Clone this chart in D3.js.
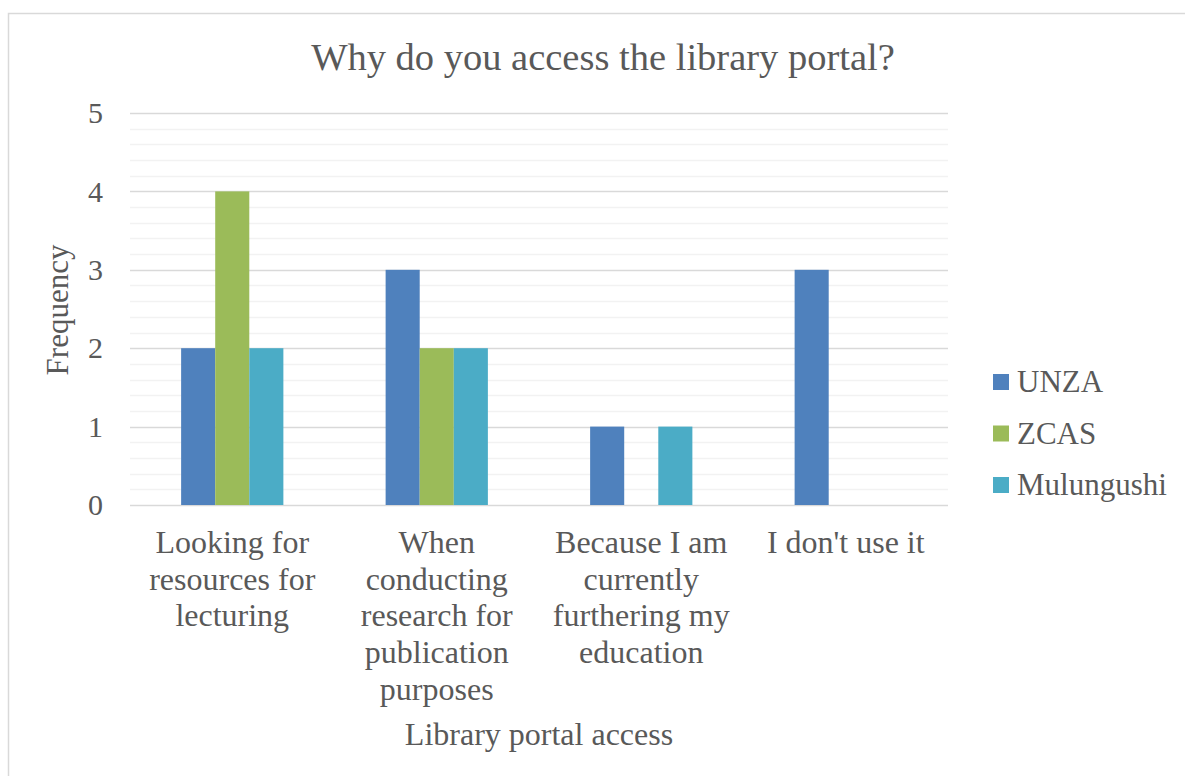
<!DOCTYPE html>
<html>
<head>
<meta charset="utf-8">
<script src="https://cdn.jsdelivr.net/npm/d3@7"></script>
<style>
  body { margin: 0; background: #fff; }
</style>
</head>
<body>
<div id="chart"></div>
<script>
var categories = [
    ["Looking for", "resources for", "lecturing"],
    ["When", "conducting", "research for", "publication", "purposes"],
    ["Because I am", "currently", "furthering my", "education"],
    ["I don't use it"]
];
var seriesNames = ["UNZA", "ZCAS", "Mulungushi"];
var unzaValues = [2, 3, 1, 3];
var zcasValues = [4, 2, 0, 0];
var mulungushiValues = [2, 2, 1, 0];
var yTicks = [0, 1, 2, 3, 4, 5];
var colors = ["#4f81bd", "#9bbb59", "#4bacc6"];

var FONT = "'Liberation Serif', Tinos, 'Times New Roman', Times, 'DejaVu Serif', serif";
var TEXT = "#595959";

var W = 1185, H = 776;
var svg = d3.select("#chart").append("svg").attr("width", W).attr("height", H)
    .attr("font-family", FONT);

svg.append("rect")
    .attr("x", 8.5).attr("y", 13.5)
    .attr("width", W + 10).attr("height", H + 10)
    .attr("fill", "none").attr("stroke", "#d9d9d9").attr("stroke-width", 1.5);

var plot = {left: 130, right: 948, top: 113, bottom: 505};

var x0 = d3.scaleBand()
    .domain(d3.range(categories.length))
    .range([plot.left, plot.right]);

var x1 = d3.scaleBand()
    .domain(seriesNames)
    .range([0, x0.bandwidth() / 2]);

var y = d3.scaleLinear().domain([0, 5]).range([plot.bottom, plot.top]);

// minor gridlines
var minor = d3.range(0, 5.001, 0.2).filter(function(v) { return Math.abs(v - Math.round(v)) > 0.01; });
svg.append("g").selectAll("line").data(minor).enter().append("line")
    .attr("x1", plot.left).attr("x2", plot.right)
    .attr("y1", function(d) { return Math.round(y(d)) + 0.5; })
    .attr("y2", function(d) { return Math.round(y(d)) + 0.5; })
    .attr("stroke", "#f2f2f2").attr("stroke-width", 1.5);

// major gridlines
svg.append("g").selectAll("line").data(yTicks).enter().append("line")
    .attr("x1", plot.left).attr("x2", plot.right)
    .attr("y1", function(d) { return Math.round(y(d)) + 0.5; })
    .attr("y2", function(d) { return Math.round(y(d)) + 0.5; })
    .attr("stroke", "#d9d9d9").attr("stroke-width", 1.5);

var yAxis = svg.append("g")
    .attr("transform", "translate(" + plot.left + ",0)")
    .call(d3.axisLeft(y).tickValues(yTicks).tickSize(0).tickPadding(27).tickFormat(d3.format("d")));
yAxis.attr("font-family", FONT).attr("font-size", 30);
yAxis.select(".domain").remove();
yAxis.selectAll("text").attr("fill", TEXT);

var data = categories.map(function(c, i) {
    return [unzaValues[i], zcasValues[i], mulungushiValues[i]];
});

var groups = svg.selectAll(".grp").data(data).enter().append("g")
    .attr("transform", function(d, i) { return "translate(" + (x0(i) + x0.bandwidth() / 4) + ",0)"; });

groups.selectAll("rect")
    .data(function(d) { return d.map(function(v, j) { return {name: seriesNames[j], value: v, j: j}; }); })
    .enter().append("rect")
    .attr("x", function(d) { return x1(d.name); })
    .attr("width", x1.bandwidth())
    .attr("y", function(d) { return y(d.value); })
    .attr("height", function(d) { return y(0) - y(d.value); })
    .attr("fill", function(d) { return colors[d.j]; });

// category labels
var catLabels = svg.selectAll(".cat").data(categories).enter().append("text")
    .attr("text-anchor", "middle")
    .attr("fill", TEXT)
    .attr("font-size", 32);
catLabels.each(function(lines, i) {
    var t = d3.select(this);
    lines.forEach(function(line, k) {
        t.append("tspan")
            .attr("x", x0(i) + x0.bandwidth() / 2)
            .attr("y", 553 + k * 36.7)
            .text(line);
    });
});

svg.append("text")
    .attr("x", 603).attr("y", 70)
    .attr("text-anchor", "middle")
    .attr("fill", TEXT)
    .attr("font-size", 38.5)
    .text("Why do you access the library portal?");

svg.append("text")
    .attr("x", 539).attr("y", 745)
    .attr("text-anchor", "middle")
    .attr("fill", TEXT)
    .attr("font-size", 32)
    .text("Library portal access");

svg.append("text")
    .attr("transform", "translate(68,310) rotate(-90)")
    .attr("text-anchor", "middle")
    .attr("fill", TEXT)
    .attr("font-size", 31)
    .text("Frequency");

var legend = svg.append("g").attr("transform", "translate(993,382)");
seriesNames.forEach(function(n, i) {
    var g = legend.append("g").attr("transform", "translate(0," + (i * 51.5) + ")");
    g.append("rect").attr("x", 0).attr("y", -8).attr("width", 16).attr("height", 16).attr("fill", colors[i]);
    g.append("text").attr("x", 24).attr("y", 10).attr("fill", TEXT).attr("font-size", 31).text(n);
});
</script>
</body>
</html>
